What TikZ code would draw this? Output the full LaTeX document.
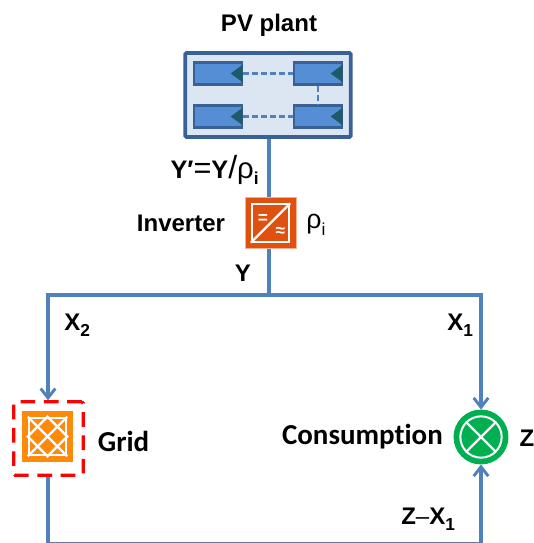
\documentclass[tikz,border=0pt]{standalone}
\usepackage{fontspec}
\setmainfont{Liberation Sans}
\newfontfamily\calibrifont{Carlito}[Ligatures={NoCommon}]
\usetikzlibrary{arrows.meta, positioning, calc}
\definecolor{lineBlue}{HTML}{4F81BD}
\definecolor{frameBlue}{HTML}{3A6195}
\definecolor{plantFill}{HTML}{DCE6F2}
\definecolor{panelBlue}{HTML}{558ED5}
\definecolor{panelTip}{HTML}{1F5A6B}
\definecolor{invOrange}{HTML}{E0500F}
\definecolor{gridOrange}{HTML}{FF8A0A}
\definecolor{loadGreen}{HTML}{00B050}
\newcommand{\sub}[1]{\raisebox{-0.5ex}{\fontsize{13}{13}\selectfont #1}}

\begin{document}
\begin{tikzpicture}[
    x=0.75pt, y=-0.75pt,
    link/.style={draw=lineBlue, line width=2.4pt},
    feed/.style={link, -{Straight Barb[length=7pt, width=11pt, line width=2.2pt]}},
    pvpanel/.style={rectangle, draw=frameBlue, fill=panelBlue, line width=2pt,
                 minimum width=36pt, minimum height=16.5pt, inner sep=0pt},
    panellink/.style={draw=lineBlue, line width=1.8pt, dash pattern=on 4.5pt off 2.2pt},
    lbl/.style={font=\fontsize{18}{20}\selectfont\bfseries, inner sep=0pt},
    clbl/.style={font=\calibrifont\fontsize{21.7}{24}\selectfont\bfseries, inner sep=0pt},
    wline/.style={draw=white, line width=1.7pt},
  ]
    \useasboundingbox (0,0) rectangle (534,543);

    % PV plant
    \node[rectangle, draw=frameBlue, fill=plantFill, line width=2.8pt, rounded corners=0.8pt,
          minimum width=124pt, minimum height=63pt, inner sep=0pt] (plant) at (268,95) {};
    \node[pvpanel] (p1) at (218,73.5) {};
    \node[pvpanel] (p2) at (318,73.5) {};
    \node[pvpanel] (p3) at (218,116.5) {};
    \node[pvpanel] (p4) at (318,116.5) {};
    \foreach \pnl in {p1,p2,p3,p4} {
      \fill[panelTip] ([xshift=-9.5pt]\pnl.east) -- ([xshift=-0.6pt,yshift=6.5pt]\pnl.east)
        -- ([xshift=-0.6pt,yshift=-6.5pt]\pnl.east) -- cycle;
    }
    \draw[panellink] (p1) -- (p2);
    \draw[panellink] (p3) -- (p4);
    \draw[panellink] (p2) -- (p4);
    \node[lbl] (plantlbl) at (269,25) {PV plant};

    % Inverter
    \node[rectangle, fill=invOrange, draw=invOrange!45, line width=0.4pt,
          minimum size=38.5pt, inner sep=0pt] (inv) at (270.5,223) {};
    \node[rectangle, draw=white, line width=1.5pt, minimum size=28pt, inner sep=0pt] (invin) at (inv) {};
    \draw[wline] (invin.south west) -- (invin.north east);
    \node[text=white, font=\fontsize{13}{13}\selectfont\bfseries, inner sep=0pt] (invdc) at (263,219) {=};
    \node[text=white, font=\fontsize{13}{13}\selectfont\bfseries, inner sep=0pt] (invac) at (280.5,232) {≈};
    \node[lbl, left=14.5pt of inv] (invlbl) {Inverter};
    \node[font=\fontsize{20}{22}\selectfont, inner sep=0pt] (rho) at (316,225) {ρ\sub{i}};
    \node[lbl, font=\fontsize{19}{22}\selectfont\bfseries, anchor=east] (ylbl) at (259,170)
      {Y′{\fontsize{23}{22}\selectfont\mdseries =}Y{\fontsize{24}{22}\selectfont\mdseries /}{\fontsize{22}{22}\selectfont\mdseries ρ}\sub{\bfseries i}};
    \node[lbl] (y) at (243,273) {Y};

    % Grid
    \node[rectangle, fill=gridOrange, minimum size=38.5pt, inner sep=0pt] (grid) at (47.5,436.5) {};
    \node[rectangle, draw=white, line width=1.5pt, minimum size=28pt, inner sep=0pt] (gridin) at (grid) {};
    \draw[wline] (gridin.north west) -- (gridin.south east);
    \draw[wline] (gridin.north east) -- (gridin.south west);
    \draw[wline] (gridin.north) -- (gridin.east) -- (gridin.south) -- (gridin.west) -- cycle;
    \node[rectangle, draw=red, line width=2.4pt, dash pattern=on 11pt off 6.5pt, rounded corners=1pt,
          minimum width=52pt, minimum height=55pt, inner sep=0pt] (gridbox) at (48.5,438.5) {};
    \node[clbl] (gridlbl) at (123.5,441) {Grid};

    % Consumption
    \node[circle, draw=loadGreen, fill=loadGreen, line width=3.2pt, minimum size=38pt, inner sep=0pt] (load) at (481,437) {};
    \node[circle, draw=white, line width=1.5pt, minimum size=31pt, inner sep=0pt] (loadin) at (load) {};
    \draw[wline] (loadin.north west) -- (loadin.south east);
    \draw[wline] (loadin.north east) -- (loadin.south west);
    \node[clbl, anchor=east] (loadlbl) at (443,437) {Consumption};
    \node[lbl] (z) at (527,438) {Z};

    % Connections
    \coordinate (bus) at (269,295);
    \coordinate (busL) at (48,295);
    \coordinate (busR) at (481,295);
    \coordinate (botL) at (48,543.5);
    \coordinate (botR) at (481,543.5);
    \draw[link] (plant.south -| bus) -- (inv.north -| bus);
    \draw[link] (inv.south -| bus) -- (bus);
    \draw[feed] (bus) -- (busL) -- (gridbox.north -| busL);
    \draw[feed] (bus) -- (busR) -- (load.north -| busR);
    \draw[feed] (gridbox.south -| botL) -- (botL) -- (botR) -- (load.south -| botR);

    \node[lbl, anchor=west] (x2) at (64,325) {X\sub{2}};
    \node[lbl, anchor=west] (x1) at (447,325) {X\sub{1}};
    \node[lbl, anchor=west] (zx1) at (401,519) {Z\textmd{--}X\sub{1}};
\end{tikzpicture}
\end{document}
